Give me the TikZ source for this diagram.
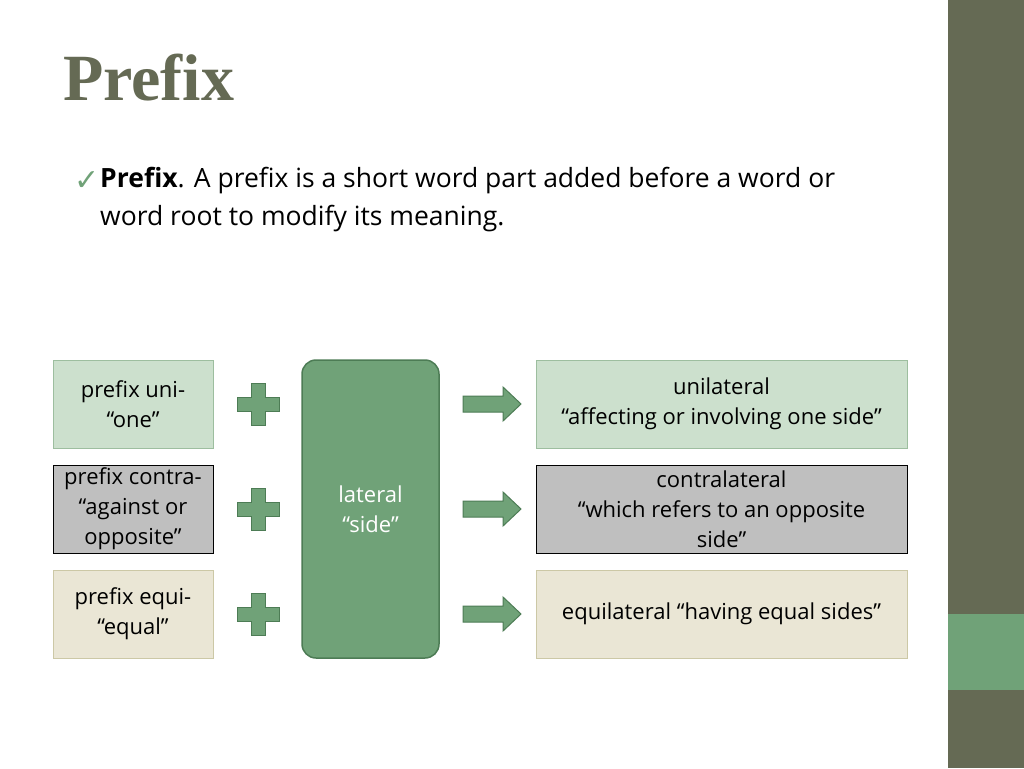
\documentclass[tikz,border=0pt]{standalone}
\usepackage{fontspec}
\setmainfont{Open Sans}
\newfontfamily\titlefont{Liberation Serif}
\newfontfamily\symfont{DejaVu Sans}
\usetikzlibrary{positioning}
\definecolor{olive}{HTML}{656A54}
\definecolor{leaf}{HTML}{70A278}
\definecolor{leafdark}{HTML}{4D7C55}
\definecolor{mint}{HTML}{CCE0CD}
\definecolor{mintline}{HTML}{9DBE9F}
\definecolor{greybox}{HTML}{BFBFBF}
\definecolor{sand}{HTML}{EAE6D5}
\definecolor{sandline}{HTML}{CCC8A6}
\tikzset{
  partbox/.style={draw,line width=1pt,minimum height=88pt,align=center,
    font=\fontsize{22}{30}\selectfont,inner sep=2pt},
  plusmark/.style={fill=leaf,draw=leafdark,line width=1pt},
  arrowmark/.style={fill=leaf,draw=leafdark,line width=1pt}
}
\begin{document}
\begin{tikzpicture}[x=1pt,y=-1pt]
\useasboundingbox (0,0) rectangle (1024,768);
\fill[white] (0,0) rectangle (1024,768);
\fill[olive] (948,0) rectangle (1024,768);
\fill[leaf] (948,614) rectangle (1024,690);
% title and text
\node[anchor=west,text=olive,font=\titlefont\bfseries\fontsize{66}{70}\selectfont,inner sep=0pt] (title) at (63,78) {Prefix};
\node[anchor=west,text=leaf,font=\symfont\fontsize{30}{30}\selectfont,inner sep=0pt] (tick) at (74,181) {✓};
\node[anchor=north west,align=left,font=\fontsize{26.5}{38}\selectfont,inner sep=0pt] (intro) at (100,167)
  {\textbf{Prefix}. A prefix is a short word part added before a word or\\word root to modify its meaning.};
% left column
\node[partbox,fill=mint,draw=mintline,minimum width=160pt] (uni) at (133,404) {prefix uni-\\“one”};
\node[partbox,fill=greybox,draw=black,minimum width=160pt] (contra) at (133,509) {prefix contra-\\“against or\\opposite”};
\node[partbox,fill=sand,draw=sandline,minimum width=160pt] (equi) at (133,614) {prefix equi-\\“equal”};
% root
\node[draw=leafdark,fill=leaf,line width=1.5pt,rounded corners=14pt,minimum width=137pt,minimum height=298pt,
  text=white,align=center,font=\fontsize{22}{30}\selectfont] (root) at (370.5,509) {lateral\\“side”};
% right column
\node[partbox,fill=mint,draw=mintline,minimum width=371pt] (unilat) at (721.5,404) {unilateral\\“affecting or involving one side”};
\node[partbox,fill=greybox,draw=black,minimum width=371pt] (contralat) at (721.5,509) {contralateral\\“which refers to an opposite\\side”};
\node[partbox,fill=sand,draw=sandline,minimum width=371pt] (equilat) at (721.5,614) {equilateral “having equal sides”};
% plus signs and arrows
\foreach \y/\n in {404/a,509/b,614/c}{
  \draw[plusmark] (251,\y-21) -- (265,\y-21) -- (265,\y-7) -- (279,\y-7) -- (279,\y+7) -- (265,\y+7)
    -- (265,\y+21) -- (251,\y+21) -- (251,\y+7) -- (237,\y+7) -- (237,\y-7) -- (251,\y-7) -- cycle;
  \draw[arrowmark] (463,\y-8) -- (503,\y-8) -- (503,\y-17) -- (521,\y) -- (503,\y+17) -- (503,\y+8)
    -- (463,\y+8) -- cycle;
}
\end{tikzpicture}
\end{document}
